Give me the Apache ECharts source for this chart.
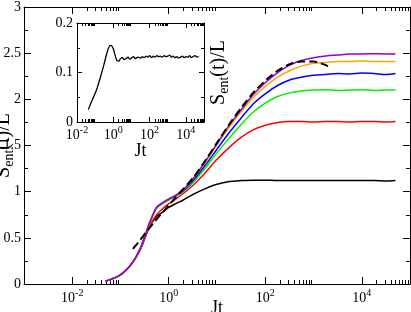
<!DOCTYPE html>
<html><head><meta charset="utf-8">
<script src="https://cdn.jsdelivr.net/npm/echarts@6/dist/echarts.min.js"></script>
<style>html,body{margin:0;padding:0;background:#fff}#c{width:411px;height:312px}</style>
</head><body><div id="c"></div><script>
// ---- data ----
const tMain = [0.048, 0.063, 0.1, 0.16, 0.25, 0.4, 0.56, 0.8, 1, 1.4, 2, 3.2, 5.6, 10, 18, 32, 56, 100, 180, 320, 560, 1000, 1800, 3200, 5600, 10000, 18000, 32000, 50000];
const sPurple = [0.03, 0.05, 0.10, 0.20, 0.37, 0.66, 0.83, 0.89, 0.92, 0.96, 1.02, 1.14, 1.32, 1.52, 1.72, 1.89, 2.05, 2.18, 2.29, 2.37, 2.42, 2.45, 2.47, 2.48, 2.49, 2.49, 2.495, 2.49, 2.49];
const sOrange = [0.03, 0.05, 0.10, 0.20, 0.37, 0.66, 0.83, 0.89, 0.92, 0.96, 1.02, 1.14, 1.31, 1.51, 1.70, 1.87, 2.02, 2.14, 2.24, 2.31, 2.36, 2.39, 2.40, 2.41, 2.41, 2.415, 2.41, 2.41, 2.41];
const sBlue = [0.03, 0.05, 0.10, 0.20, 0.37, 0.66, 0.83, 0.89, 0.92, 0.96, 1.01, 1.12, 1.28, 1.46, 1.64, 1.80, 1.95, 2.06, 2.15, 2.21, 2.24, 2.26, 2.27, 2.28, 2.275, 2.285, 2.28, 2.27, 2.28];
const sGreen = [0.03, 0.05, 0.10, 0.20, 0.37, 0.65, 0.82, 0.88, 0.91, 0.95, 1.00, 1.10, 1.25, 1.42, 1.58, 1.73, 1.86, 1.96, 2.03, 2.07, 2.09, 2.10, 2.105, 2.095, 2.10, 2.105, 2.095, 2.10, 2.10];
const sRed = [0.03, 0.05, 0.10, 0.20, 0.36, 0.62, 0.75, 0.83, 0.87, 0.92, 0.98, 1.07, 1.20, 1.35, 1.48, 1.59, 1.67, 1.72, 1.75, 1.76, 1.76, 1.755, 1.76, 1.76, 1.755, 1.76, 1.76, 1.755, 1.76];
const sBlack = [0.03, 0.05, 0.10, 0.20, 0.36, 0.62, 0.73, 0.79, 0.83, 0.87, 0.91, 0.97, 1.03, 1.08, 1.11, 1.12, 1.125, 1.125, 1.12, 1.12, 1.12, 1.12, 1.12, 1.12, 1.12, 1.12, 1.12, 1.115, 1.12];
const tDash = [0.18, 0.25, 0.35, 0.5, 0.7, 1, 1.4, 2, 3.2, 5.6, 10, 18, 32, 56, 100, 180, 320, 560, 1000, 1400, 2000];
const sDash = [0.38, 0.47, 0.57, 0.67, 0.76, 0.85, 0.94, 1.03, 1.15, 1.33, 1.53, 1.73, 1.91, 2.07, 2.20, 2.31, 2.38, 2.41, 2.41, 2.39, 2.36];
const tInset = [0.042, 0.07, 0.12, 0.2, 0.3, 0.45, 0.6, 0.75, 1.0, 1.3, 1.6, 2.0, 2.5, 3.2, 4, 5, 6.5, 8, 10, 13, 16, 20, 25, 32, 40, 50, 65, 80, 100, 130, 160, 200, 250, 320, 400, 500, 650, 800, 1000, 1300, 1600, 2000, 2500, 3200, 4000, 5000, 6500, 8000, 10000, 13000, 16000, 20000, 25000, 32000, 40000, 50000];
const sInset = [0.025, 0.045, 0.065, 0.092, 0.115, 0.14, 0.153, 0.155, 0.148, 0.133, 0.124, 0.123, 0.128, 0.130, 0.126, 0.128, 0.131, 0.127, 0.129, 0.132, 0.128, 0.130, 0.131, 0.129, 0.132, 0.130, 0.133, 0.131, 0.134, 0.130, 0.133, 0.131, 0.134, 0.132, 0.133, 0.131, 0.134, 0.132, 0.133, 0.135, 0.131, 0.133, 0.130, 0.132, 0.129, 0.131, 0.133, 0.130, 0.132, 0.131, 0.134, 0.130, 0.132, 0.134, 0.131, 0.133];
// tick positions (in Jt)
const xMajor = [0.01, 1, 100, 10000];
const xMinor = [0.02,0.03,0.04,0.05,0.06,0.07,0.08,0.09, 2,3,4,5,6,7,8,9, 200,300,400,500,600,700,800,900, 20000,30000,40000,50000,60000,70000,80000,90000];
const yMainLabels = [0, 0.5, 1, 1.5, 2, 2.5, 3];
const yInsetLabels = [0, 0.1, 0.2];

const FONT = 'Liberation Serif';
const pair = (xs, ys) => xs.map((x, i) => [x, ys[i]]);
const tickRich = {
  b: {fontFamily: FONT, fontSize: 14, color: '#000', lineHeight: 20, verticalAlign: 'middle'},
  p: {fontFamily: FONT, fontSize: 10, color: '#000', lineHeight: 10, verticalAlign: 'top'}
};
const expFmt = v => '{b|10}{p|' + Math.round(Math.log10(v)) + '}';
const nameRich = {
  m: {fontFamily: FONT, fontSize: 20, color: '#000', lineHeight: 24, verticalAlign: 'middle'},
  s: {fontFamily: FONT, fontSize: 14, color: '#000', lineHeight: 10, verticalAlign: 'bottom'}
};
const sName = '{m|S}{s|ent}{m|(t)/L}';

const MAIN = {left: 24, top: 7, width: 386, height: 277};
const INS = {left: 77, top: 23, width: 127, height: 99};
const blk = {color: '#000', width: 1};

const grids = [], xAxes = [], yAxes = [];
function addFrame(rect, xmin, xmax, ymin, ymax, yint, tk, xLabelExtra, yLabelExtra, yRightExtra, bg) {
  const base = grids.length;
  // 0: bottom major + left ; 1: bottom minor + right ; 2: top major ; 3: top minor
  for (let k = 0; k < 4; k++) {
    grids.push(Object.assign({show: k === 0 && !!bg, backgroundColor: '#fff', borderWidth: 0, z: 0,
      containLabel: false, outerBoundsMode: 'none'}, rect));
    const major = (k % 2 === 0);
    xAxes.push(Object.assign({
      type: 'log', logBase: 10, gridIndex: base + k, min: xmin, max: xmax, position: k < 2 ? 'bottom' : 'top',
      axisLine: {show: major, onZero: false, lineStyle: blk},
      axisTick: {show: true, inside: true, length: major ? tk.maj : tk.min, customValues: major ? xMajor : xMinor, lineStyle: blk},
      axisLabel: {show: false},
      splitLine: {show: false}, minorTick: {show: false}
    }, k === 0 ? xLabelExtra : {}));
    yAxes.push(Object.assign({
      type: 'value', gridIndex: base + k, min: ymin, max: ymax, interval: yint, position: k === 1 ? 'right' : 'left',
      show: k < 2,
      axisLine: {show: true, onZero: false, lineStyle: blk},
      axisTick: {show: true, inside: true, length: tk.maj, lineStyle: blk},
      minorTick: {show: true, splitNumber: 2, length: tk.min, lineStyle: blk},
      axisLabel: {show: false},
      splitLine: {show: false}, minorSplitLine: {show: false}
    }, k === 0 ? yLabelExtra : (k === 1 ? yRightExtra : {})));
  }
  return base;
}

const mainBase = addFrame(MAIN, 0.001, 100000, 0, 3, 0.5, {maj: 7, min: 4},
  {axisLabel: {show: true, customValues: xMajor, margin: 4, formatter: expFmt, rich: tickRich},
   name: 'Jt', nameLocation: 'middle', nameGap: 15, nameMoveOverlap: false, nameTextStyle: {fontFamily: FONT, fontSize: 18, color: '#000'}},
  {axisLabel: {show: true, margin: 3, customValues: yMainLabels, fontFamily: FONT, fontSize: 14, color: '#000'},
   name: sName, nameLocation: 'middle', nameGap: 8, nameMoveOverlap: false, nameTextStyle: {rich: nameRich}},
  {}, false);
const insBase = addFrame(INS, 0.01, 100000, 0, 0.2, 0.1, {maj: 5, min: 3},
  {axisLabel: {show: true, customValues: xMajor, margin: 3, formatter: expFmt, rich: tickRich},
   name: 'Jt', nameLocation: 'middle', nameGap: 20, nameMoveOverlap: false, nameTextStyle: {fontFamily: FONT, fontSize: 18, color: '#000'}},
  {axisLabel: {show: true, margin: 4, customValues: yInsetLabels, fontFamily: FONT, fontSize: 14, color: '#000'}},
  {name: sName, nameLocation: 'middle', nameGap: 3, nameMoveOverlap: false, nameTextStyle: {rich: nameRich}}, true);

const lines = [
  {name: 'black', data: pair(tMain, sBlack), color: '#000000'},
  {name: 'red', data: pair(tMain, sRed), color: '#ff0000'},
  {name: 'green', data: pair(tMain, sGreen), color: '#00ee00'},
  {name: 'blue', data: pair(tMain, sBlue), color: '#0000ff'},
  {name: 'orange', data: pair(tMain, sOrange), color: '#ffa500'},
  {name: 'purple', data: pair(tMain, sPurple), color: '#9400d3'}
].map(s => ({type: 'line', name: s.name, data: s.data, xAxisIndex: mainBase, yAxisIndex: mainBase, symbol: 'none', smooth: 0.3,
  lineStyle: {width: 1.5, color: s.color}, itemStyle: {color: s.color}}));
lines.push({type: 'line', name: 'dash', xAxisIndex: mainBase, yAxisIndex: mainBase, symbol: 'none', smooth: 0.3, data: pair(tDash, sDash),
  lineStyle: {width: 2, color: '#000', type: [8, 4]}});
lines.push({type: 'line', name: 'inset', xAxisIndex: insBase, yAxisIndex: insBase, symbol: 'none', smooth: 0.3, data: pair(tInset, sInset),
  lineStyle: {width: 1.3, color: '#000'}});

const chart = echarts.init(document.getElementById('c'), null, {renderer: 'canvas'});
chart.setOption({animation: false, backgroundColor: '#fff', grid: grids, xAxis: xAxes, yAxis: yAxes, series: lines});
</script></body></html>
